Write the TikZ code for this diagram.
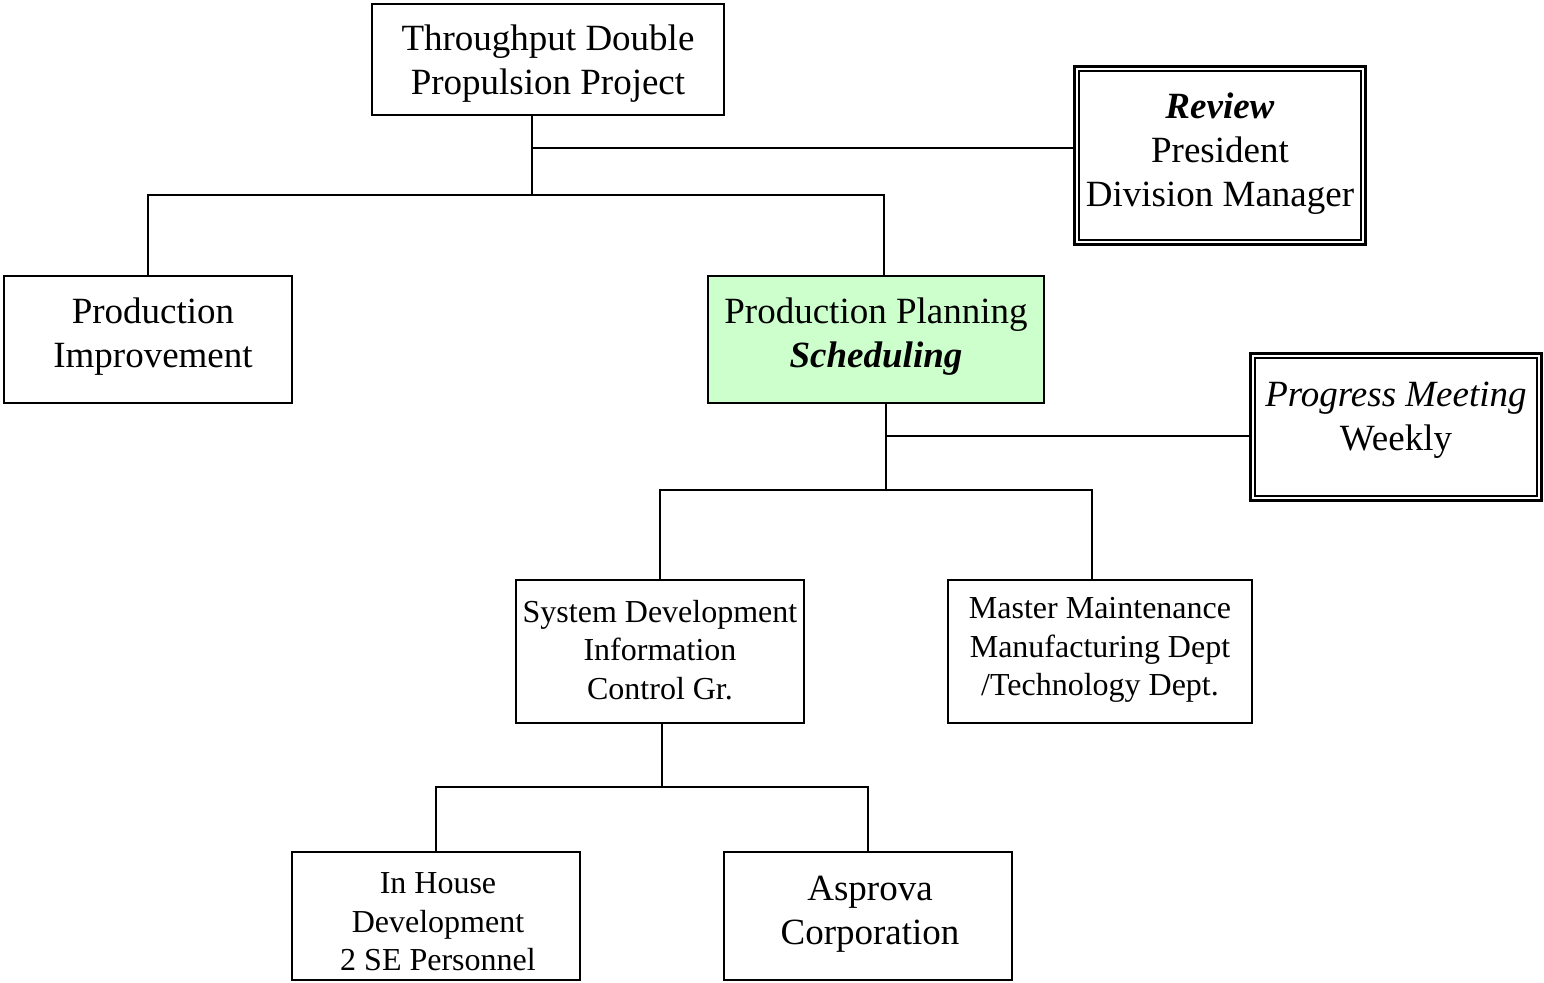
\documentclass[tikz,border=0pt]{standalone}
\usepackage{fontspec}
\usetikzlibrary{calc}
\setmainfont{Liberation Serif}
\definecolor{plangreen}{HTML}{CCFFCC}
\newcommand{\bigtxt}{\fontsize{18.5}{22}\selectfont}
\newcommand{\midtxt}{\fontsize{16}{19.25}\selectfont}
\tikzset{
  orgbox/.style={draw, line width=0.75pt, inner sep=0pt, align=center},
  dblbox/.style={draw, line width=1.4pt, inner sep=0pt, align=center},
  innerline/.style={line width=1pt},
  lbl/.style={inner sep=0pt, align=center},
  link/.style={line width=0.75pt}
}
\begin{document}
\begin{tikzpicture}[x=0.5pt, y=-0.5pt]
\useasboundingbox (0,0) rectangle (1544,982);

% boxes (centre, width, height in px)
\node[orgbox, minimum width=352*0.5pt, minimum height=111*0.5pt] (top) at (548,59.5) {};
\node[lbl, font=\bigtxt] (topt) at (548,64) {Throughput Double\\Propulsion Project};

\node[dblbox, minimum width=291*0.5pt, minimum height=178*0.5pt] (rev) at (1220,155.5) {};
\draw[innerline] ($(rev.south west)+(6,-6)$) rectangle ($(rev.north east)+(-6,6)$);
\node[lbl, font=\bigtxt] (revt) at (1220,154) {\textbf{\textit{Review}}\\President\\Division Manager};

\node[orgbox, minimum width=288*0.5pt, minimum height=127*0.5pt] (imp) at (148,339.5) {};
\node[lbl, font=\bigtxt] (impt) at (153,337) {Production\\Improvement};

\node[orgbox, fill=plangreen, minimum width=336*0.5pt, minimum height=127*0.5pt] (plan) at (876,339.5) {};
\node[lbl, font=\bigtxt] (plant) at (876,337) {Production Planning\\\textbf{\textit{Scheduling}}};

\node[dblbox, minimum width=291*0.5pt, minimum height=147*0.5pt] (prog) at (1396,427) {};
\draw[innerline] ($(prog.south west)+(6,-6)$) rectangle ($(prog.north east)+(-6,6)$);
\node[lbl, font=\bigtxt] (progt) at (1396,420) {\textit{Progress Meeting}\\Weekly};

\node[orgbox, minimum width=288*0.5pt, minimum height=143*0.5pt] (sys) at (660,651.5) {};
\node[lbl, font=\midtxt] (syst) at (660,650) {System Development\\Information\\Control Gr.};

\node[orgbox, minimum width=304*0.5pt, minimum height=143*0.5pt] (mst) at (1100,651.5) {};
\node[lbl, font=\midtxt] (mstt) at (1100,650) {Master Maintenance\\Manufacturing Dept\\/Technology Dept.};

\node[orgbox, minimum width=288*0.5pt, minimum height=128*0.5pt] (inh) at (436,916) {};
\node[lbl, font=\midtxt] (inht) at (438,922) {In House\\Development\\2 SE Personnel};

\node[orgbox, minimum width=288*0.5pt, minimum height=128*0.5pt] (asp) at (868,916) {};
\node[lbl, font=\bigtxt] (aspt) at (870,914) {Asprova\\Corporation};

% junction points
\coordinate (j1) at (532,195);
\coordinate (r1) at (532,148);
\coordinate (j2) at (886,490);
\coordinate (r2) at (886,436);
\coordinate (j3) at (662,787);

% connectors
\draw[link] (top.south -| j1) -- (j1);
\draw[link] (r1) -- (r1 -| rev.west);
\draw[link] (imp.north) |- (j1) -| (plan.north -| 884,0);
\draw[link] (plan.south -| j2) -- (j2);
\draw[link] (r2) -- (r2 -| prog.west);
\draw[link] (sys.north) |- (j2) -| (mst.north -| 1092,0);
\draw[link] (sys.south -| j3) -- (j3);
\draw[link] (inh.north) |- (j3) -| (asp.north);
\end{tikzpicture}
\end{document}
